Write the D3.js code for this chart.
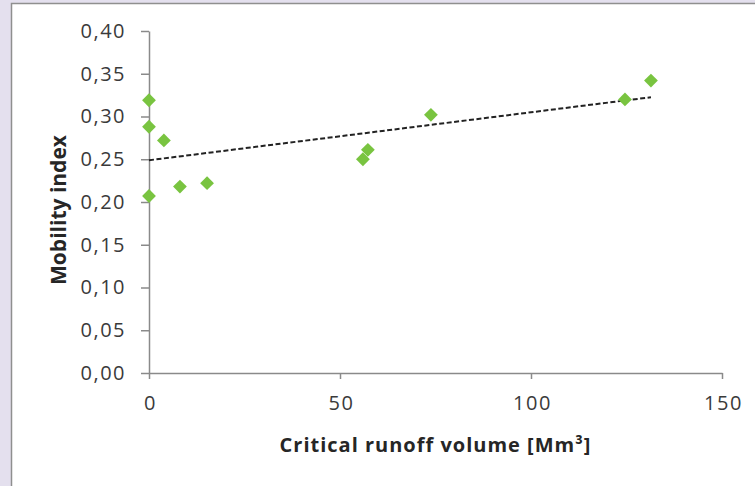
<!DOCTYPE html>
<html>
<head>
<meta charset="utf-8">
<script src="https://cdnjs.cloudflare.com/ajax/libs/d3/7.8.5/d3.min.js"></script>
<style>
  body { margin: 0; background: #e4e0ee; }
  svg { display: block; }
</style>
</head>
<body>
<div id="chart"></div>
<script>
// critical runoff volume [Mm3] and mobility index
var runoff = [0, 0, 3.9, 0, 8.1, 15.2, 56, 57.3, 73.8, 124.6, 131.4];
var mobility = [0.319, 0.288, 0.272, 0.207, 0.218, 0.222, 0.250, 0.261, 0.302, 0.320, 0.342];

var xTicks = [0, 50, 100, 150];
var yTicks = [0, 0.05, 0.10, 0.15, 0.20, 0.25, 0.30, 0.35, 0.40];

var W = 755, H = 486;
var margin = {top: 31, right: 33, bottom: 113, left: 149};
var width = W - margin.left - margin.right,
    height = H - margin.top - margin.bottom;

var svg = d3.select("#chart")
  .append("svg")
    .attr("width", W)
    .attr("height", H);

// white panel with grey frame
svg.append("rect")
  .attr("x", 11.5).attr("y", 3.5)
  .attr("width", W).attr("height", H)
  .attr("fill", "#fff")
  .attr("stroke", "#8f8f8f")
  .attr("stroke-width", 1.5);

var g = svg.append("g")
  .attr("transform", "translate(" + margin.left + "," + margin.top + ")");

var x = d3.scaleLinear().domain([0, 150]).range([0, width]);
var y = d3.scaleLinear().domain([0, 0.4]).range([height, 0]);

var fmt = function(d) { return d3.format(".2f")(d).replace(".", ","); };

// Y axis
var yAxis = g.append("g")
  .call(d3.axisLeft(y).tickValues(yTicks).tickFormat(fmt).tickSize(8).tickSizeOuter(0).tickPadding(15));
// X axis
var xAxis = g.append("g")
  .attr("transform", "translate(0," + height + ")")
  .call(d3.axisBottom(x).tickValues(xTicks).tickSize(6).tickSizeOuter(0).tickPadding(17));

[xAxis, yAxis].forEach(function(a) {
  a.select(".domain").attr("stroke", "#8a8a8a").attr("stroke-width", 1.5);
  a.selectAll(".tick line").attr("stroke", "#8a8a8a").attr("stroke-width", 1.5);
  a.selectAll("text")
    .attr("font-family", "'Open Sans', sans-serif")
    .attr("font-size", 20)
    .attr("letter-spacing", 1.5)
    .attr("fill", "#3a3a3a");
});
// keep x labels centred despite the letter spacing
xAxis.selectAll("text").attr("dx", 1);

// linear trend line (least squares)
var mx = d3.mean(runoff), my = d3.mean(mobility);
var sxy = d3.sum(runoff, function(v, i) { return (v - mx) * (mobility[i] - my); });
var sxx = d3.sum(runoff, function(v) { return (v - mx) * (v - mx); });
var slope = sxy / sxx, intercept = my - slope * mx;
var x0 = 0, x1 = d3.max(runoff);

g.append("line")
  .attr("x1", x(x0)).attr("y1", y(intercept + slope * x0))
  .attr("x2", x(x1)).attr("y2", y(intercept + slope * x1))
  .attr("stroke", "#222")
  .attr("stroke-width", 2)
  .attr("stroke-dasharray", "5,2.5");

// diamond markers
var diamond = d3.symbol().type(d3.symbolSquare).size(95);
g.selectAll("path.pt")
  .data(runoff)
  .enter()
  .append("path")
    .attr("class", "pt")
    .attr("d", diamond)
    .attr("transform", function(d, i) {
      return "translate(" + x(d) + "," + y(mobility[i]) + ") rotate(45)";
    })
    .attr("fill", "#79c440");

// axis titles
g.append("text")
  .attr("x", width / 2)
  .attr("y", height + 79)
  .attr("text-anchor", "middle")
  .attr("font-family", "'Open Sans', sans-serif")
  .attr("font-weight", "bold")
  .attr("font-size", 20)
  .attr("letter-spacing", 1)
  .attr("fill", "#262626")
  .text("Critical runoff volume [Mm³]");

g.append("text")
  .attr("transform", "translate(-83," + (height / 2 + 8) + ") rotate(-90)")
  .attr("text-anchor", "middle")
  .attr("font-family", "'Open Sans', sans-serif")
  .attr("font-weight", "bold")
  .attr("font-size", 21)
  .attr("fill", "#262626")
  .text("Mobility index");
</script>
</body>
</html>
